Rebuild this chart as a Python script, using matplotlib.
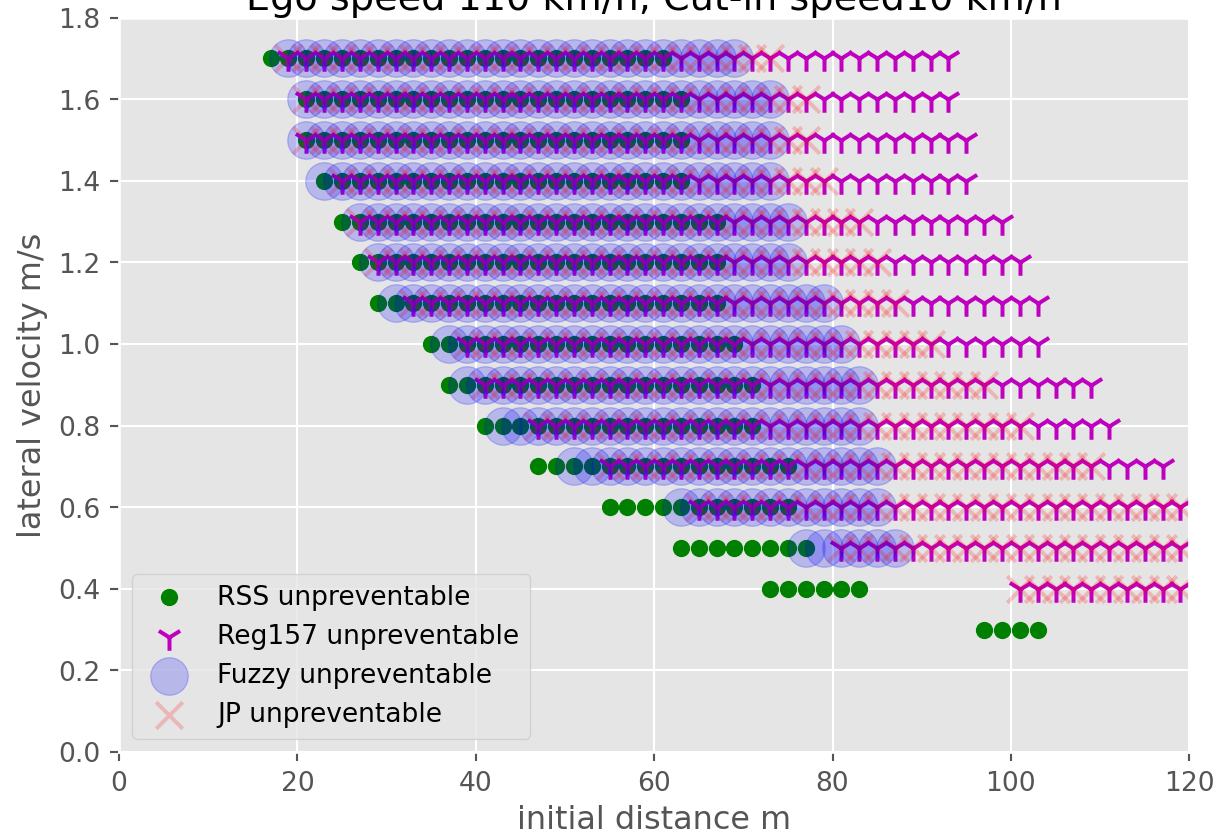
import numpy as np
import matplotlib
matplotlib.use("Agg")
import matplotlib.pyplot as plt

# lateral velocity rows (m/s), top to bottom
lat_vel = [1.7, 1.6, 1.5, 1.4, 1.3, 1.2, 1.1, 1.0, 0.9, 0.8, 0.7, 0.6, 0.5, 0.4, 0.3]

# initial distance sweep is on a 2 m grid; each row keeps first/last unpreventable distance
STEP = 2
rss_start = [17, 21, 21, 23, 25, 27, 29, 35, 37, 41, 47, 55, 63, 73, 97]
rss_end = [61, 63, 63, 63, 67, 67, 67, 69, 71, 71, 75, 75, 77, 83, 103]

reg_start = [19, 21, 21, 25, 27, 29, 33, 39, 41, 47, 55, 65, 81, 101, None]
reg_end = [93, 93, 95, 95, 99, 101, 103, 103, 109, 111, 117, 119, 119, 119, None]

fuzzy_start = [19, 21, 21, 23, 27, 29, 31, 37, 39, 43, 51, 63, 77, None, None]
fuzzy_end = [69, 73, 73, 73, 75, 75, 79, 81, 83, 83, 85, 85, 87, None, None]

jp_start = [19, 21, 21, 25, 27, 29, 33, 39, 41, 47, 55, 65, 81, 101, None]
jp_end = [73, 77, 77, 79, 83, 85, 87, 91, 97, 101, 109, 119, 119, 119, None]


def expand(starts, ends):
    xs = []
    ys = []
    for v, a, b in zip(lat_vel, starts, ends):
        if a is None:
            continue
        d = np.arange(a, b + 1, STEP)
        xs.extend(d)
        ys.extend([v] * len(d))
    return xs, ys


plt.style.use('ggplot')
dpi = 191
fig = plt.figure(figsize=(1217.3 / dpi, 836.3 / dpi), dpi=dpi)
ax = fig.add_axes([119 / 1217, 84 / 836, 1070 / 1217, 734 / 836])

x, y = expand(rss_start, rss_end)
ax.scatter(x, y, c='g', label='RSS unpreventable')
x, y = expand(reg_start, reg_end)
ax.scatter(x, y, c='m', marker='1', s=100, label='Reg157 unpreventable')
x, y = expand(fuzzy_start, fuzzy_end)
ax.scatter(x, y, c='b', s=200, alpha=0.2, label='Fuzzy unpreventable')
x, y = expand(jp_start, jp_end)
ax.scatter(x, y, c='r', marker='x', s=100, alpha=0.2, label='JP unpreventable')

ax.set_xlim(0, 120)
ax.set_ylim(0, 1.8)
ax.set_yticks(np.arange(0, 1.81, 0.2))
ax.set_title('Ego speed 110 km/h, Cut-in speed10 km/h', pad=2.5)
ax.set_xlabel('initial distance m', labelpad=3)
ax.set_ylabel('lateral velocity m/s')
ax.legend(loc='lower left')

fig.savefig('out.png', dpi=dpi)
